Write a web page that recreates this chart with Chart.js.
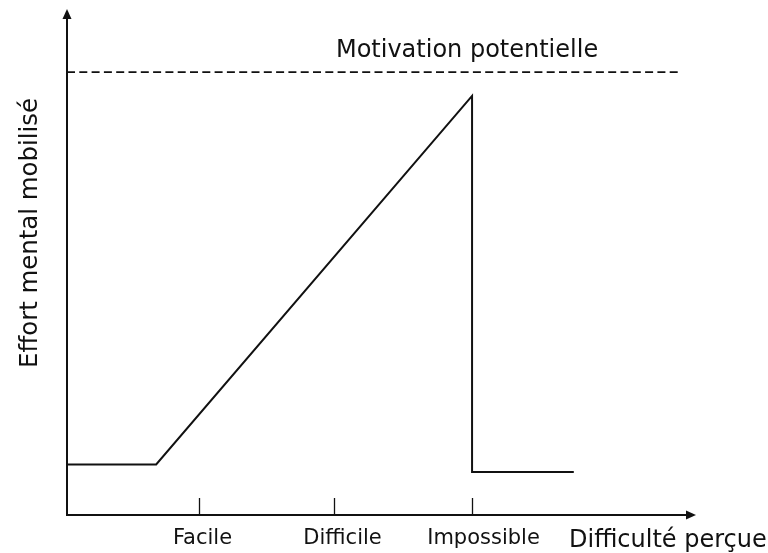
<!DOCTYPE html>
<html lang="fr">
<head>
    <meta charset="UTF-8">
    <title>Effort mental mobilisé</title>
    <script src="https://cdn.jsdelivr.net/npm/chart.js"></script>
    <style>
        html, body { margin: 0; padding: 0; background: #fff; }
        #wrap { width: 768px; height: 553px; }
    </style>
</head>
<body>
    <div id="wrap"><canvas id="effortChart" width="768" height="553"></canvas></div>

    <script>
        // données (unités arbitraires 0-100)
        const tickValues = [21, 42.5, 64.5];
        const tickLabels = ['Facile', 'Difficile', 'Impossible'];
        const effortX = [0, 14.2, 64.5, 64.5, 80.7];
        const effortY = [10, 10, 83, 8.5, 8.5];
        const motivationX = [0, 97.3];
        const motivationY = [87.7, 87.7];

        const xTitle = 'Difficulté perçue';
        const yTitle = 'Effort mental mobilisé';
        const motivationLabel = 'Motivation potentielle';

        const ink = '#111';
        const font = '"DejaVu Sans", sans-serif';
        // décalage horizontal des libellés par rapport aux graduations (px)
        const labelShift = [3, 8, 11];

        // axes avec flèches, graduations et textes
        const axesPlugin = {
            id: 'axesFleches',
            afterDatasetsDraw(chart) {
                const ctx = chart.ctx;
                const area = chart.chartArea;
                const xs = chart.scales.x;
                const ys = chart.scales.y;
                ctx.save();
                ctx.strokeStyle = ink;
                ctx.fillStyle = ink;
                ctx.lineWidth = 2;

                // axe y
                ctx.beginPath();
                ctx.moveTo(area.left, area.bottom + 1);
                ctx.lineTo(area.left, area.top + 6);
                ctx.stroke();
                ctx.beginPath();
                ctx.moveTo(area.left, area.top - 1);
                ctx.lineTo(area.left - 4.5, area.top + 9);
                ctx.lineTo(area.left + 4.5, area.top + 9);
                ctx.closePath();
                ctx.fill();

                // axe x
                ctx.beginPath();
                ctx.moveTo(area.left - 1, area.bottom);
                ctx.lineTo(area.right - 6, area.bottom);
                ctx.stroke();
                ctx.beginPath();
                ctx.moveTo(area.right + 1, area.bottom);
                ctx.lineTo(area.right - 9, area.bottom - 4.5);
                ctx.lineTo(area.right - 9, area.bottom + 4.5);
                ctx.closePath();
                ctx.fill();

                // graduations
                ctx.lineWidth = 1.3;
                ctx.font = '21px ' + font;
                ctx.textAlign = 'center';
                ctx.textBaseline = 'alphabetic';
                tickValues.forEach((v, i) => {
                    const px = Math.round(xs.getPixelForValue(v)) + 0.5;
                    ctx.beginPath();
                    ctx.moveTo(px, area.bottom);
                    ctx.lineTo(px, area.bottom - 17);
                    ctx.stroke();
                    ctx.fillText(tickLabels[i], px + labelShift[i], area.bottom + 29);
                });

                // titres
                ctx.font = '24px ' + font;
                ctx.textAlign = 'left';
                ctx.fillText(xTitle, 569, area.bottom + 32);

                ctx.textAlign = 'center';
                const mx = xs.getPixelForValue(63.7);
                const my = ys.getPixelForValue(motivationY[0]);
                ctx.fillText(motivationLabel, mx, my - 15);

                ctx.font = '24.4px ' + font;
                ctx.translate(37, 233);
                ctx.rotate(-Math.PI / 2);
                ctx.fillText(yTitle, 0, 0);
                ctx.restore();
            }
        };

        new Chart(document.getElementById('effortChart'), {
            type: 'scatter',
            data: {
                datasets: [{
                    label: 'Effort',
                    data: effortX.map((x, i) => ({ x: x, y: effortY[i] })),
                    showLine: true,
                    borderColor: ink,
                    borderWidth: 2,
                    pointRadius: 0,
                    fill: false,
                    tension: 0
                }, {
                    label: 'Motivation',
                    data: motivationX.map((x, i) => ({ x: x, y: motivationY[i] })),
                    showLine: true,
                    borderColor: ink,
                    borderWidth: 1.8,
                    borderDash: [8, 4.3],
                    pointRadius: 0,
                    fill: false
                }]
            },
            options: {
                responsive: false,
                animation: false,
                clip: false,
                layout: { padding: { left: 67, right: 73, top: 10, bottom: 38 } },
                plugins: {
                    legend: { display: false },
                    tooltip: { enabled: false }
                },
                scales: {
                    x: { type: 'linear', min: 0, max: 100, display: false },
                    y: { type: 'linear', min: 0, max: 100, display: false }
                }
            },
            plugins: [axesPlugin]
        });
    </script>
</body>
</html>
